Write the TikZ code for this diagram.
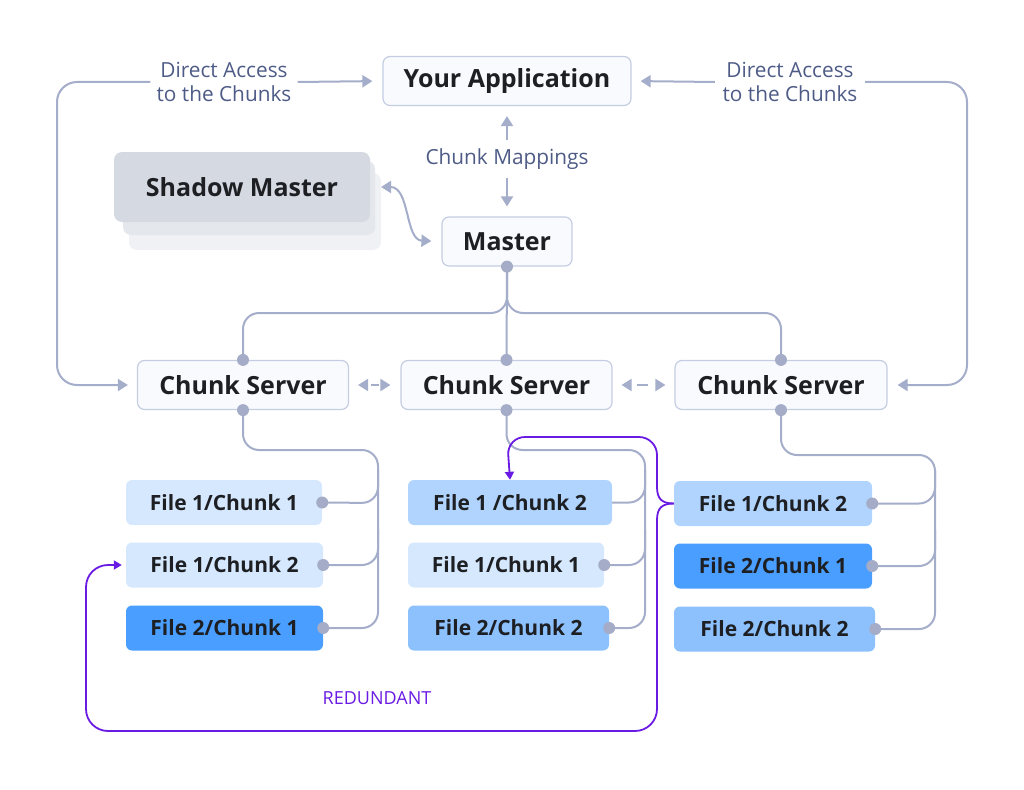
\documentclass[tikz,border=0pt]{standalone}
\usepackage{fontspec}
\setmainfont{Open Sans}
\usetikzlibrary{arrows.meta,calc}
\definecolor{gline}{HTML}{A4ADC9}
\definecolor{dotc}{HTML}{A5ACC7}
\definecolor{lbl}{HTML}{4D5B86}
\definecolor{bbord}{HTML}{C5CDE3}
\definecolor{bfill}{HTML}{F9FAFD}
\definecolor{tdark}{HTML}{1D1F23}
\definecolor{purp}{HTML}{6A1BE3}
\definecolor{blA}{HTML}{D5E8FE}
\definecolor{blB}{HTML}{B0D4FE}
\definecolor{blC}{HTML}{8CC1FE}
\definecolor{blD}{HTML}{499EFF}
\definecolor{shA}{HTML}{D5DAE2}
\definecolor{shB}{HTML}{E4E7EC}
\definecolor{shC}{HTML}{EFF1F4}
\pgfdeclarelayer{bg}
\pgfsetlayers{bg,main}
\begin{document}
\begin{tikzpicture}[x=1pt,y=-1pt,
  mainbox/.style={draw=bbord, line width=1.2pt, fill=bfill, rounded corners=7pt, text=tdark,
     font=\fontsize{25}{28}\selectfont\bfseries, minimum height=49pt, inner sep=0pt},
  filebox/.style={rounded corners=6pt, text=tdark, font=\fontsize{21}{24}\selectfont\bfseries,
     minimum height=45pt, inner sep=0pt},
  lbltext/.style={text=lbl, font=\fontsize{20.8}{24}\selectfont, align=center, inner sep=0pt},
  conn/.style={draw=gline, line width=2pt},
  tip/.style={-{Triangle[length=10pt,width=12pt]}},
  btip/.style={{Triangle[length=10pt,width=12pt]}-{Triangle[length=10pt,width=12pt]}},
  purpline/.style={draw=purp, line width=1.8pt},
  ptip/.style={-{Triangle[length=8pt,width=9pt]}},
  dot/.style={fill=dotc}
]
\path[use as bounding box] (0,0) rectangle (1024,789);

% shadow master stack
\fill[shC, rounded corners=8pt] (129,173) rectangle (381,250);
\fill[shB, rounded corners=8pt] (123,161) rectangle (375,235);
\fill[shA, rounded corners=8pt] (114,152) rectangle (370,222);
\node[text=tdark, font=\fontsize{25}{28}\selectfont\bfseries, inner sep=0pt, minimum width=256pt, minimum height=70pt] (shadow) at (242,187) {Shadow Master};
\coordinate (smr) at (381,187);

% labels
\node[lbltext, minimum width=147pt, minimum height=40pt] (dal) at (224,82) {Direct Access\\to the Chunks};
\node[lbltext, minimum width=150pt, minimum height=40pt] (dar) at (790,82) {Direct Access\\to the Chunks};
\node[lbltext, minimum height=37pt] (cm) at (507,159) {Chunk Mappings};

% main boxes
\node[mainbox, minimum width=248pt] (app) at (507,81) {Your Application};
\node[mainbox, minimum width=130pt] (master) at (507,241.5) {Master};
\node[mainbox, minimum width=211pt] (cs1) at (243,385) {Chunk Server};
\node[mainbox, minimum width=211pt] (cs2) at (506.5,385) {Chunk Server};
\node[mainbox, minimum width=212pt] (cs3) at (781,385) {Chunk Server};

% file boxes
\node[filebox, fill=blA, minimum width=196pt] (l11) at (224,502.5) {File 1/Chunk 1};
\node[filebox, fill=blA, minimum width=197pt] (l12) at (224.5,565) {File 1/Chunk 2};
\node[filebox, fill=blD, minimum width=197pt] (l21) at (224.5,628) {File 2/Chunk 1};
\node[filebox, fill=blB, minimum width=204pt] (m12) at (510,502.5) {File 1 /Chunk 2};
\node[filebox, fill=blA, minimum width=196pt] (m11) at (506,565) {File 1/Chunk 1};
\node[filebox, fill=blC, minimum width=201pt] (m22) at (508.5,628) {File 2/Chunk 2};
\node[filebox, fill=blB, minimum width=198pt] (r12) at (773,503.5) {File 1/Chunk 2};
\node[filebox, fill=blD, minimum width=198pt] (r21) at (773,566) {File 2/Chunk 1};
\node[filebox, fill=blC, minimum width=201pt] (r22) at (774.5,629) {File 2/Chunk 2};

\node[text=purp, font=\fontsize{18}{20}\selectfont, inner sep=0pt] (red) at (377,698) {REDUNDANT};

\begin{pgfonlayer}{bg}
% direct access
\draw[conn, tip, rounded corners=20pt, shorten >=9pt] (dal.west) -- (57,82) -- (57,385) -- (cs1.west);
\draw[conn, tip, shorten >=10pt] (dal.east) -- (app.west);
\draw[conn, tip, rounded corners=20pt, shorten >=10pt] (dar.east) -- (967,82) -- (967,385) -- (cs3.east);
\draw[conn, tip, shorten >=9pt] (dar.west) -- (app.east);
% chunk mappings
\draw[conn, tip, shorten >=10pt] (cm.north) -- (app.south);
\draw[conn, tip, shorten >=10pt] (cm.south) -- (master.north);
% shadow master <-> master
\draw[conn, btip, shorten >=10pt] (smr) .. controls (410,187) and (405,240) .. (master.west);
% master to chunk servers
\draw[conn] (master.south) -- (cs2.north);
\draw[conn, rounded corners=16pt] (master.south) -- (507,313) -- (243,313) -- (cs1.north);
\draw[conn, rounded corners=16pt] (master.south) -- (507,313) -- (781,313) -- (cs3.north);
% chunk server peer links
\draw[conn, btip, shorten <=9pt, shorten >=10pt, dash pattern=on 0pt off 3pt on 8pt off 30pt] (cs1.east) -- (cs2.west);
\draw[conn, btip, shorten <=9pt, shorten >=9pt, dash pattern=on 0pt off 6pt on 11pt off 30pt] (cs2.east) -- (cs3.west);
% chunk server buses
\draw[conn, rounded corners=16pt] (cs1.south) -- (243,450) -- (378,450) -- (378,628) -- (l21.east);
\draw[conn, rounded corners=16pt] (l11.east) -- (378,503) -- (378,470);
\draw[conn, rounded corners=16pt] (l12.east) -- (378,565) -- (378,530);
\draw[conn, rounded corners=16pt] (cs2.south) -- (506.5,450) -- (645,450) -- (645,628) -- (m22.east);
\draw[conn, rounded corners=16pt] (m12.east) -- (645,502.5) -- (645,470);
\draw[conn, rounded corners=16pt] (m11.east) -- (645,565) -- (645,530);
\draw[conn, rounded corners=16pt] (cs3.south) -- (781,455) -- (935,455) -- (935,629) -- (r22.east);
\draw[conn, rounded corners=16pt] (r12.east) -- (935,503.5) -- (935,470);
\draw[conn, rounded corners=16pt] (r21.east) -- (935,566) -- (935,530);
% redundant path
\draw[purpline, ptip] (r12.west) .. controls (662,503.5) and (657,499) .. (657,487)
   [rounded corners=18pt] -- (657,437) -- (507,437) -- (m12.north);
\draw[purpline, ptip, shorten >=4pt] (r12.west) .. controls (662,503.5) and (657,508) .. (657,520)
   [rounded corners=22pt] -- (657,731) -- (86,731) -- (86,565) -- (l12.west);
\end{pgfonlayer}

% dots
\foreach \p in {master.south, cs1.north, cs1.south, cs2.north, cs2.south, cs3.north, cs3.south,
   l11.east, l12.east, l21.east, m11.east, m22.east, r12.east, r21.east, r22.east}
  \fill[dot] (\p) circle (6pt);
\end{tikzpicture}
\end{document}
